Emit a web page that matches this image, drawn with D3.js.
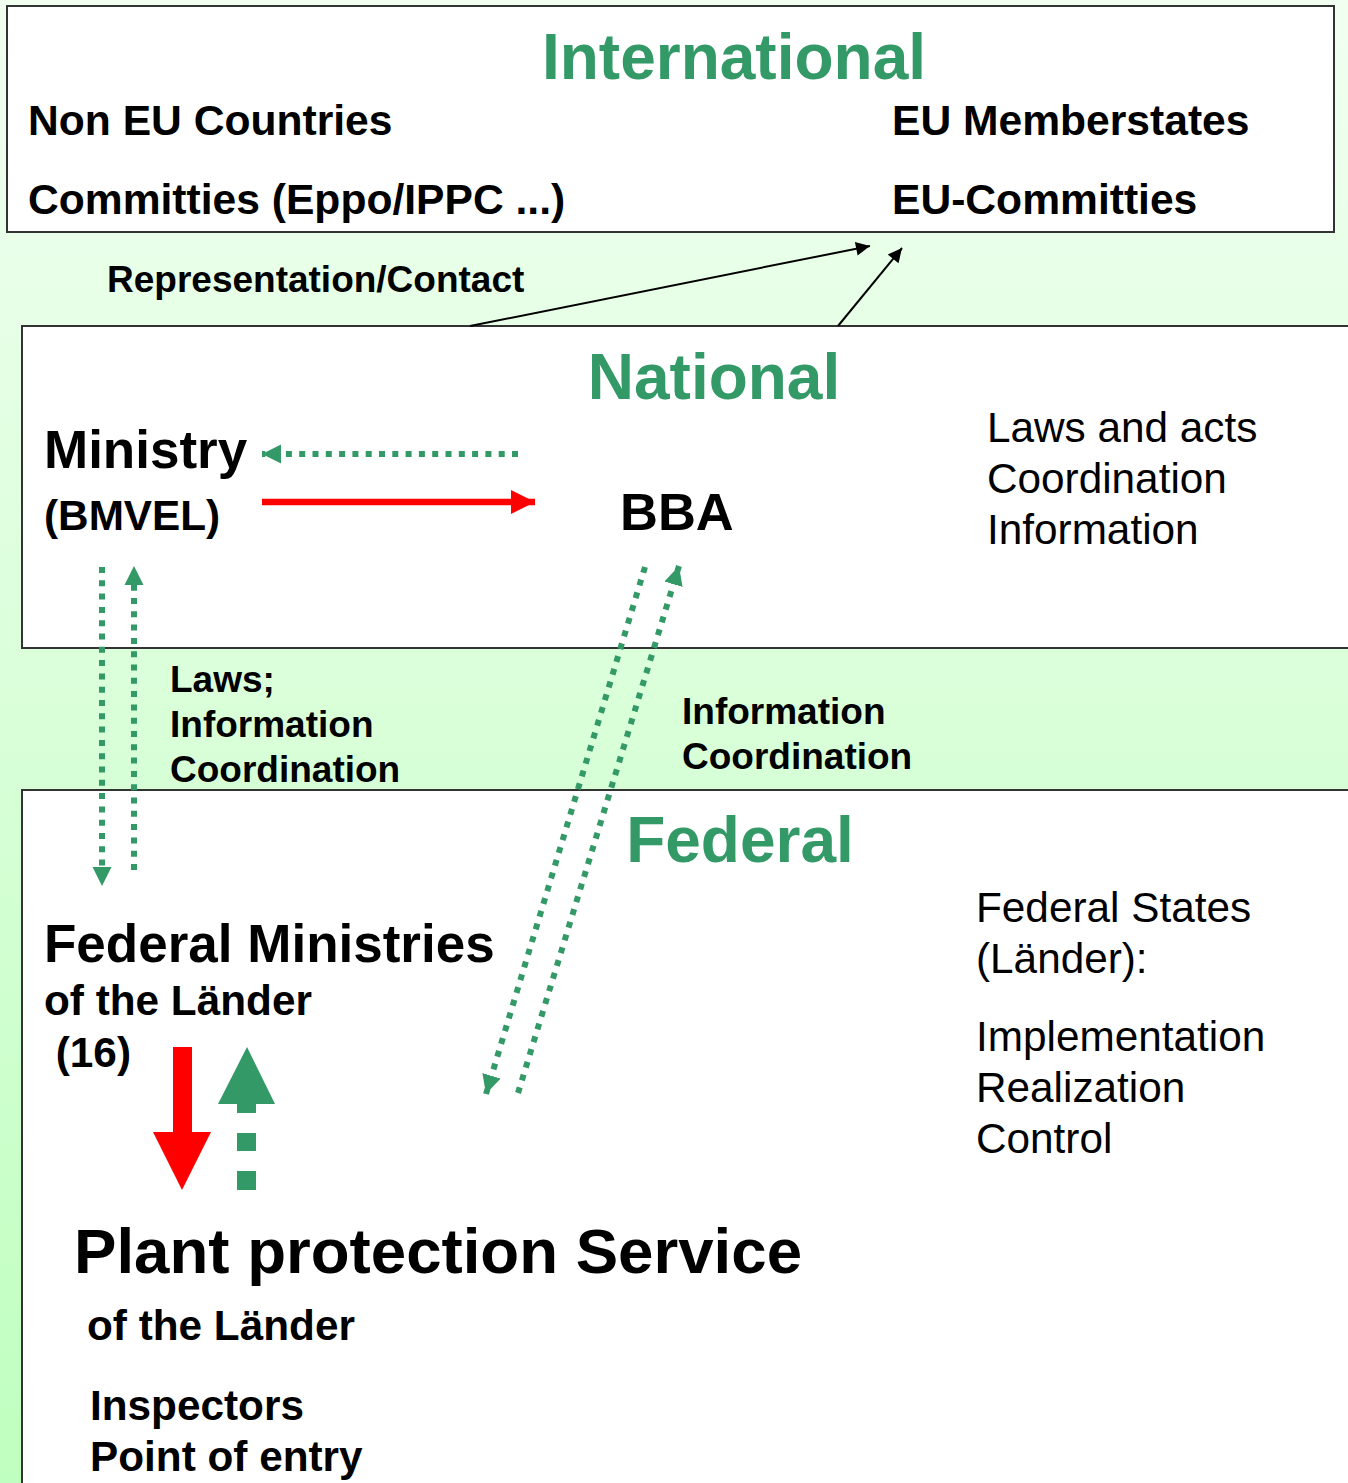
<!DOCTYPE html>
<html lang="en">
<head>
<meta charset="utf-8">
<title>Plant protection organisation</title>
<script src="https://d3js.org/d3.v7.min.js"></script>
<style>
  body { margin: 0; }
  svg text { font-family: "Liberation Sans", Arial, sans-serif; }
</style>
</head>
<body>
<script>
// levels and their texts
var levels = ["International", "National", "Federal"];
var intlLeft = ["Non EU Countries", "Committies (Eppo/IPPC ...)"];
var intlRight = ["EU Memberstates", "EU-Committies"];
var contactLabel = ["Representation/Contact"];
var nationalTasks = ["Laws and acts", "Coordination", "Information"];
var ministryLines = ["Ministry", "(BMVEL)"];
var bbaLabel = ["BBA"];
var lawsLines = ["Laws;", "Information", "Coordination"];
var infoLines = ["Information", "Coordination"];
var federalMin = ["Federal Ministries", "of the Länder", " (16)"];
var federalTasksA = ["Federal States", "(Länder):"];
var federalTasksB = ["Implementation", "Realization", "Control"];
var serviceLines = ["Plant protection Service", "of the Länder"];
var inspectLines = ["Inspectors", "Point of entry"];

var W = 1348, H = 1483;
var green = "#339966", red = "#ff0000";

var svg = d3.select("body").append("svg")
  .attr("width", W).attr("height", H);

var defs = svg.append("defs");
var grad = defs.append("linearGradient").attr("id", "bg")
  .attr("x1", 0).attr("y1", 0).attr("x2", 0).attr("y2", 1);
grad.append("stop").attr("offset", "0%").attr("stop-color", "#f1fff1");
grad.append("stop").attr("offset", "100%").attr("stop-color", "#bfffbf");

function marker(id, color, w, h) {
  defs.append("marker").attr("id", id)
    .attr("viewBox", "0 0 10 10").attr("refX", 10).attr("refY", 5)
    .attr("markerUnits", "userSpaceOnUse")
    .attr("markerWidth", w).attr("markerHeight", h)
    .attr("orient", "auto")
    .append("path").attr("d", "M0,0L10,5L0,10Z").attr("fill", color);
}
marker("blk", "#000", 18, 14);
marker("grn", green, 19, 21);
marker("redm", red, 24, 26);

svg.append("rect").attr("width", W).attr("height", H).attr("fill", "url(#bg)");

// boxes
var boxes = [
  {x: 7, y: 6, w: 1327, h: 226},
  {x: 22, y: 326, w: 1340, h: 322},
  {x: 22, y: 790, w: 1340, h: 720}
];
svg.selectAll("rect.box").data(boxes).enter().append("rect")
  .attr("class", "box")
  .attr("x", d => d.x).attr("y", d => d.y)
  .attr("width", d => d.w).attr("height", d => d.h)
  .attr("fill", "#fff").attr("stroke", "#333").attr("stroke-width", 2);

// level titles
var titlePos = [[734, 79], [714, 399], [740, 862]];
svg.selectAll("text.title").data(levels).enter().append("text")
  .attr("class", "title")
  .attr("x", (d, i) => titlePos[i][0]).attr("y", (d, i) => titlePos[i][1])
  .attr("text-anchor", "middle")
  .attr("font-size", 64).attr("font-weight", "bold").attr("fill", green)
  .text(d => d);

// text block helper
function block(lines, x, y0, step, size, weight) {
  svg.append("g").selectAll("text").data(lines).enter().append("text")
    .attr("x", x).attr("y", (d, i) => y0 + i * step)
    .attr("font-size", size).attr("font-weight", weight)
    .attr("fill", "#000")
    .style("white-space", "pre")
    .text(d => d);
}

block(intlLeft, 28, 135, 79, 42.6, "bold");
block(intlRight, 892, 135, 79, 42.6, "bold");
block(contactLabel, 107, 292, 0, 37, "bold");
block(ministryLines.slice(0, 1), 44, 468, 0, 53, "bold");
block(ministryLines.slice(1), 44, 530, 0, 42.3, "bold");
block(bbaLabel, 620, 530, 0, 52.5, "bold");
block(nationalTasks, 987, 442, 51, 42.3, "normal");
block(lawsLines, 170, 692, 45, 37, "bold");
block(infoLines, 682, 724, 45, 37, "bold");
block(federalMin.slice(0, 1), 44, 962, 0, 53, "bold");
block(federalMin.slice(1), 44, 1015, 52, 42.3, "bold");
block(federalTasksA, 976, 922, 51, 42.3, "normal");
block(federalTasksB, 976, 1051, 51, 42.3, "normal");
block(serviceLines.slice(0, 1), 74, 1273, 0, 63.6, "bold");
block(serviceLines.slice(1), 87, 1340, 0, 42.3, "bold");
block(inspectLines, 90, 1420, 51, 42.3, "bold");

// connector arrows
var thinArrows = [
  [[470, 326], [870, 246]],
  [[838, 326], [902, 248]]
];
svg.selectAll("line.thin").data(thinArrows).enter().append("line")
  .attr("class", "thin")
  .attr("x1", d => d[0][0]).attr("y1", d => d[0][1])
  .attr("x2", d => d[1][0]).attr("y2", d => d[1][1])
  .attr("stroke", "#000").attr("stroke-width", 2)
  .attr("marker-end", "url(#blk)");

var dotArrows = [
  [[518, 454], [262, 454]],
  [[102, 567], [102, 886]],
  [[134, 870], [134, 566]],
  [[645, 567], [486, 1094]],
  [[518, 1093], [679, 566]]
];
svg.selectAll("line.dot").data(dotArrows).enter().append("line")
  .attr("class", "dot")
  .attr("x1", d => d[0][0]).attr("y1", d => d[0][1])
  .attr("x2", d => d[1][0]).attr("y2", d => d[1][1])
  .attr("stroke", green).attr("stroke-width", 6)
  .attr("stroke-dasharray", "6,7.3")
  .attr("marker-end", "url(#grn)");

svg.append("line")
  .attr("x1", 262).attr("y1", 502).attr("x2", 535).attr("y2", 502)
  .attr("stroke", red).attr("stroke-width", 6.5)
  .attr("marker-end", "url(#redm)");

// block arrows between Ministries and Service
var line = d3.line();
svg.append("path")
  .attr("d", line([[173, 1047], [192, 1047], [192, 1132], [211, 1132], [182, 1190],
                   [153, 1132], [173, 1132]]) + "Z")
  .attr("fill", red);
svg.append("path")
  .attr("d", line([[247, 1047], [275, 1104], [256, 1104], [256, 1113], [237, 1113],
                   [237, 1104], [218, 1104]]) + "Z")
  .attr("fill", green);
var dashes = [[1133, 1151], [1171, 1190]];
svg.selectAll("rect.dash").data(dashes).enter().append("rect")
  .attr("class", "dash")
  .attr("x", 237).attr("y", d => d[0])
  .attr("width", 19).attr("height", d => d[1] - d[0])
  .attr("fill", green);
</script>
</body>
</html>
